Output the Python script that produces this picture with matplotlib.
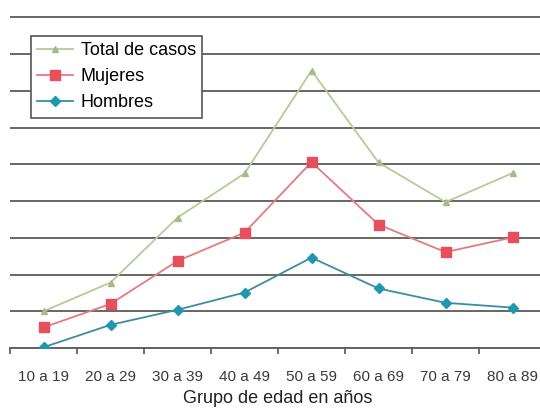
import matplotlib.pyplot as plt
import numpy as np

plt.rcParams['font.family'] = ['Liberation Sans', 'DejaVu Sans']

# age groups and case counts (one unit = one grid step)
grupos = ['10 a 19', '20 a 29', '30 a 39', '40 a 49',
          '50 a 59', '60 a 69', '70 a 79', '80 a 89']
total = [1.0, 1.78, 3.55, 4.75, 7.55, 5.05, 3.97, 4.76]
mujeres = [0.56, 1.2, 2.37, 3.14, 5.06, 3.36, 2.61, 3.01]
hombres = [0.02, 0.63, 1.04, 1.51, 2.46, 1.62, 1.23, 1.1]

x = np.arange(len(grupos))

fig = plt.figure(figsize=(5.4, 4.09), dpi=100)
# axes runs slightly past the right edge of the figure
ax = fig.add_axes([10 / 540, 61 / 409, 536 / 540, 338 / 409])

for y in range(1, 10):
    ax.axhline(y, color='#5a5a5a', lw=1.3, zorder=1)

ax.plot(x, total, color='#b4cc98', lw=1.3, marker='^', ms=5,
        mfc='#a4bc88', mec='#a4bc88', label='Total de casos', zorder=3)
ax.plot(x, mujeres, color='#e77a80', lw=1.3, marker='s', ms=7,
        mfc='#e5505c', mec='#e5505c', label='Mujeres', zorder=3)
ax.plot(x, hombres, color='#3d8ca6', lw=1.3, marker='D', ms=5.5,
        mfc='#1e98ac', mec='#1e98ac', label='Hombres', zorder=3)

ax.set_xlim(-0.5, 7.5)
ax.set_ylim(0, 9.2)

ax.set_xticks(x)
ax.set_xticklabels(grupos, fontsize=11, color='#3a3a3a')
ax.set_xticks(np.arange(-0.5, 8, 1), minor=True)
ax.tick_params(axis='x', which='major', length=0, pad=16)
ax.tick_params(axis='x', which='minor', length=4, width=1.2,
               color='#555555', direction='out')
ax.set_yticks([])

for side in ['top', 'right', 'left']:
    ax.spines[side].set_visible(False)
ax.spines['bottom'].set_color('#555555')
ax.spines['bottom'].set_linewidth(1.3)

ax.set_xlabel('Grupo de edad en años', fontsize=13, color='#222222',
              labelpad=4)

leg = ax.legend(loc='upper left', bbox_to_anchor=(31 / 540, 1 - 36 / 409),
                bbox_transform=fig.transFigure, borderaxespad=0,
                fontsize=13, frameon=True, fancybox=False,
                edgecolor='#555555', framealpha=1, handlelength=2.0,
                handletextpad=0.4, labelspacing=0.5, borderpad=0.35)
leg.get_frame().set_linewidth(1.2)

fig.savefig('out.png', dpi=100)
